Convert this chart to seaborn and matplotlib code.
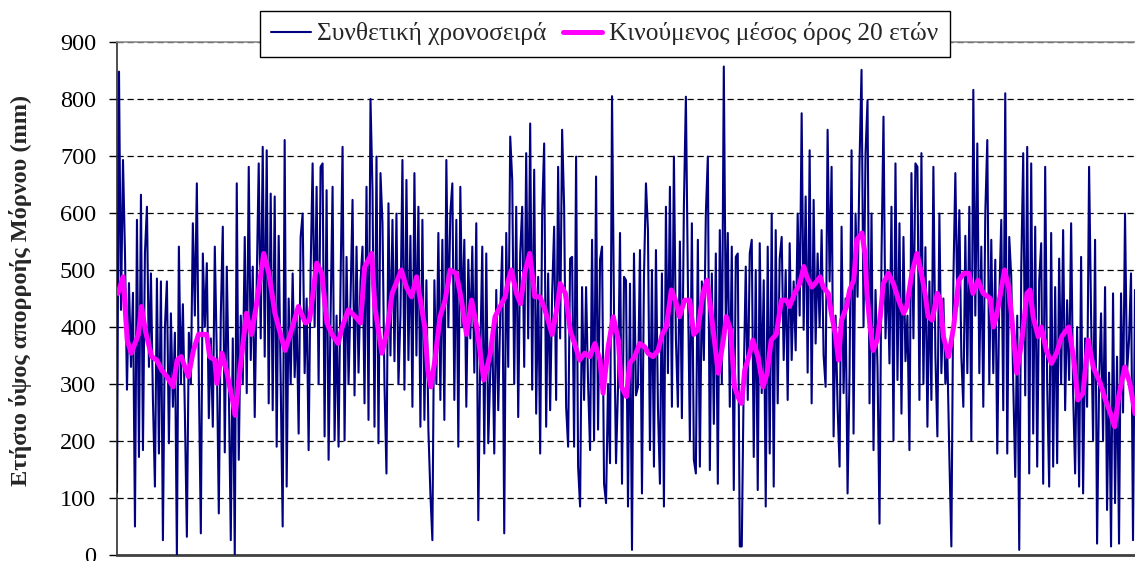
import numpy as np
import pandas as pd
import matplotlib
matplotlib.use("Agg")
import matplotlib.pyplot as plt
import seaborn as sns

# ---- data ----
series_values = [
    110, 848, 430, 693, 529, 290, 477, 330, 460, 50, 588, 172, 632, 184, 530,
    611, 330, 494, 272, 120, 485, 178, 480, 26, 400, 480, 196, 424, 260, 390,
    0, 541, 300, 440, 250, 32, 390, 300, 582, 420, 652, 310, 38, 529, 400,
    512, 240, 380, 225, 541, 350, 73, 420, 576, 180, 506, 300, 26, 380, 0,
    652, 167, 420,
    300, 558, 284, 681, 342, 506, 242, 480, 687, 380, 716, 348, 710, 266, 634,
    254, 629, 190, 560, 300, 50, 728, 120, 450, 300, 494, 312, 420, 213, 558,
    599, 319, 450, 184, 500, 687, 400, 646, 300, 681, 687, 208, 640, 167, 420,
    646, 201, 420, 190, 480, 716, 201, 523, 300, 450, 623, 280, 541, 320, 480,
    541, 266, 646, 237, 800, 640, 225, 699, 196, 670, 582, 300, 143, 617, 350,
    588, 340, 599, 300, 420, 693, 290, 658, 342, 560, 260, 670, 350, 611, 225,
    588, 237, 482, 220, 108, 26, 482, 300, 565, 272, 553, 237, 693, 400, 600,
    652, 272, 588, 190, 646, 400, 553, 260, 518, 380, 541, 320, 582, 61, 350,
    541, 178, 529, 196, 320,
    395, 178, 465, 254, 424, 541, 38, 565, 330, 734, 658, 300, 611, 242, 529,
    611, 330, 705, 380, 757, 290, 676, 248, 488, 178, 599, 722, 225, 494, 254,
    460, 576, 272, 681, 380, 746, 611, 260, 190, 520, 523, 190, 699, 155, 85,
    470, 272, 470, 300, 184, 553, 201, 664, 220, 518, 541, 125, 91, 300, 161,
    805, 424, 161,
    295, 565, 125, 488, 482, 85, 476, 9, 529, 280, 295, 535, 108, 488, 652,
    570, 184, 500, 155, 535, 260, 125, 494, 85, 611, 319, 646, 260, 699, 380,
    260, 550, 240, 611, 804, 480, 201, 582, 167, 143, 553, 155, 480, 342, 599,
    699, 149, 494, 230, 529, 125, 570, 300, 857, 400, 565, 260, 541, 114, 523,
    529, 15,
    15, 313, 506, 272, 529, 553, 172, 500, 114, 547, 284, 482, 85, 541, 178,
    599, 120, 570, 266, 520, 558, 342, 500, 272, 547, 342, 480, 359, 599, 420,
    775, 395, 629, 320, 710, 266, 623, 371, 529, 400, 570, 350, 295, 746, 480,
    681, 208, 420, 260, 155, 576, 284, 450, 108, 320, 710, 213, 599, 453, 690,
    851, 400, 705,
    798, 266, 599, 184, 465, 330, 55, 523, 769, 380, 500, 336, 611, 201, 687,
    307, 582, 248, 558, 340, 420, 184, 670, 380, 687, 681, 272, 705, 300, 540,
    225, 480, 272, 681, 350, 208, 599, 319, 450, 300, 350, 172, 15, 480, 670,
    436, 605, 348, 260, 560, 319, 611, 201, 816, 420, 722, 319, 541, 260, 600,
    728, 300,
    553, 319, 518, 178, 450, 588, 254, 810, 178, 558, 488, 300, 137, 420, 9,
    500, 705, 280, 716, 143, 687, 213, 576, 155, 480, 547, 125, 681, 300, 120,
    565, 155, 470, 161, 520, 300, 570, 254, 447, 307, 582, 284, 143, 400, 120,
    523, 108, 380, 260, 681, 420, 201, 553, 20, 300, 424, 201, 470, 79, 320,
    15, 459, 91, 348, 20, 459, 250, 599, 320, 377, 494, 26, 465,
]

ma_years = [
    2, 7, 11, 15, 22, 25, 29, 35, 40, 45, 50, 56, 60, 64, 71, 76, 81, 89, 92, 97,
    99, 104, 109, 115, 117, 122, 128, 133, 138, 145, 150, 156, 163, 166, 171,
    179, 186, 190, 197, 202, 207, 212, 218, 222, 228, 235, 240, 244, 251, 254,
    257, 261, 266, 271, 280, 285, 290, 295, 303, 306, 309, 313, 318, 323, 328,
    334, 339, 344, 349, 354, 361, 367, 372, 377, 382, 385, 388, 393, 397, 401,
    406, 408, 411, 416, 421, 428, 433, 436, 441, 446, 450, 455, 460, 465, 470,
    475, 478, 483, 488, 493, 496, 501, 504, 509, 514, 519, 522, 527, 532, 536,
    540, 545, 549, 553, 558, 563, 567, 571, 576, 580, 583, 588, 591, 596, 599,
    603, 607, 611, 614, 617, 622, 625, 630, 635, 639, 643, 648, 653, 658, 661,
    666, 671, 675, 678, 683, 686, 691, 694, 699, 702, 706, 709, 712, 717, 720,
    724, 727, 732, 735, 737, 740, 743, 747, 750, 753, 758, 763, 768, 773, 776,
    781, 786, 789, 794, 797, 801, 806, 809, 812, 817, 822, 827, 832, 837, 841,
    846, 851, 858, 861, 864, 868, 872, 876, 879, 884, 889, 894, 897, 900, 905,
    908, 913, 918, 923, 928, 935, 940, 944, 949, 954, 959, 966, 971, 976, 980,
    984, 990, 995, 1000,
]
ma_values = [
    459, 488, 377, 354, 387, 436, 392, 348, 342, 324, 313, 295, 342, 348, 313,
    359, 387, 387, 348, 342, 301, 354, 319, 266, 245, 330, 424, 387, 441, 529,
    494, 424, 377, 359, 387, 436, 407, 412, 512, 494, 407, 387, 371, 400, 430,
    418, 407, 505, 529, 436, 400, 354, 392, 459, 500, 470, 453, 488, 400, 324,
    295, 342, 418, 447, 500, 494, 447, 387, 447, 400, 307, 350, 418, 436, 453,
    482, 500, 459, 441, 494, 529, 500, 453, 453, 430, 387, 436, 476, 459, 392,
    371, 342, 354, 348, 371, 342, 284, 365, 418, 377, 295, 278, 336, 348, 371,
    365, 354, 348, 359, 387, 400, 465, 447, 418, 447, 447, 387, 395, 459, 482,
    441, 365, 319, 377, 418, 395, 295, 275, 266, 324, 354, 377, 348, 295, 319,
    377, 387, 447, 447, 436, 459, 476, 506, 488, 470, 476, 488, 470, 459, 424,
    387, 342, 412, 436, 465, 482, 553, 565, 529, 459, 400, 359, 377, 418, 476,
    494, 476, 447, 424, 436, 494, 529, 506, 459, 418, 412, 459, 447, 383, 348,
    400, 482, 494, 494, 459, 482, 459, 450, 400, 418, 459, 500, 470, 418, 319,
    377, 459, 465, 418, 383, 400, 359, 336, 354, 383, 400, 342, 272, 284, 377,
    330, 301, 272, 248, 225, 278, 330, 301, 248,
]

y_ticks = [0, 100, 200, 300, 400, 500, 600, 700, 800, 900]
series_label = "Συνθετική χρονοσειρά"
ma_label = "Κινούμενος μέσος όρος 20 ετών"
y_label = "Ετήσιο ύψος απορροής Μόρνου (mm)"

# ---- build frames ----
series_df = pd.DataFrame({
    "year": np.linspace(1, 1000, len(series_values)),
    "value": series_values,
})
ma_df = pd.DataFrame({"year": ma_years, "value": ma_values})

sns.set_style("white")
plt.rcParams["font.family"] = ["Liberation Serif", "DejaVu Serif"]

W, H = 1135, 561
fig = plt.figure(figsize=(W / 100, H / 100), dpi=100)
ax = fig.add_axes([117 / W, 6 / H, 1 - 117 / W, 513 / H])

sns.lineplot(data=series_df, x="year", y="value", ax=ax, color="#000080",
             linewidth=1.5, label=series_label, zorder=3)
sns.lineplot(data=ma_df, x="year", y="value", ax=ax, color="#FF00FF",
             linewidth=3.6, label=ma_label, zorder=4)

ax.set_xlim(1, 1000)
ax.set_ylim(0, 900)
ax.set_xticks([])
ax.set_xlabel("")
ax.set_yticks(y_ticks)
ax.tick_params(axis="y", direction="out", length=6, width=1, pad=9,
               labelsize=17.5, colors="black", left=True)
ax.yaxis.grid(True, linestyle=(0, (5, 3)), color="black", linewidth=0.9)
ax.set_axisbelow(True)

ax.spines["left"].set_color("#303030")
ax.spines["left"].set_linewidth(1.2)
ax.spines["bottom"].set_color("#404040")
ax.spines["bottom"].set_linewidth(2.0)
ax.spines["top"].set_color("#8c8c8c")
ax.spines["top"].set_linewidth(1.2)
ax.spines["right"].set_visible(False)

ax.set_ylabel(y_label, fontsize=17.5, fontweight="bold")
ax.yaxis.set_label_coords((32 - 117) / 1018, 0.516)

ax.get_legend().remove()
handles, labels = ax.get_legend_handles_labels()
leg = fig.legend(handles, labels, loc="upper left",
                 bbox_to_anchor=(260 / W, 1 - 11 / H), bbox_transform=fig.transFigure,
                 ncol=2, fontsize=18.3, frameon=True, fancybox=False,
                 edgecolor="black", framealpha=1, borderpad=0.45,
                 handlelength=1.55, handletextpad=0.25, columnspacing=0.65,
                 borderaxespad=0)
leg.get_frame().set_linewidth(1.0)

fig.savefig("out.png", dpi=100)
